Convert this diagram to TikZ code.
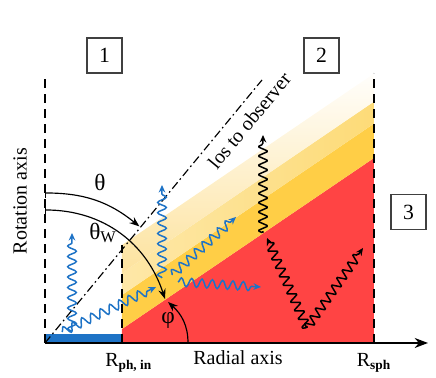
\documentclass[tikz,border=0pt]{standalone}
\usepackage{fontspec}
\setmainfont{Liberation Serif}
\usetikzlibrary{
    arrows.meta,
    decorations.pathmorphing,
    positioning,
    calc
}
\definecolor{Wblue}{RGB}{30, 115, 198}
\definecolor{Wred}{RGB}{255, 68, 68}
\definecolor{Wgold}{RGB}{255, 206, 70}
\definecolor{Wlight}{RGB}{253, 219, 120}
\definecolor{Wpale}{RGB}{253, 226, 156}
\tikzset{
    numbox/.style={
        rectangle, draw=black!75, line width=0.9pt, fill=white,
        minimum size=21pt, inner sep=0pt, font=\rmfamily\fontsize{13}{13}\selectfont
    },
    dashaxis/.style={line width=1.4pt, dash pattern=on 5.6pt off 3.4pt},
    mainaxis/.style={line width=1.1pt, -{Stealth[length=8pt, width=6pt]}},
    losline/.style={line width=0.7pt, dash pattern=on 5pt off 2pt on 1pt off 2pt},
    anglearr/.style={line width=0.7pt, {Bar[width=6pt]}-{Stealth[length=6pt, width=4.5pt]}},
    phiarr/.style={line width=0.7pt, -{Stealth[length=6pt, width=4.5pt]}},
    bphoton/.style={
        Wblue, line width=0.9pt, -{Stealth[length=4.5pt, width=4pt]}, decorate,
        decoration={snake, amplitude=2.6pt, segment length=6.2pt, post length=3pt}
    },
    kphoton/.style={
        black, line width=0.9pt, line join=round, -{Stealth[length=4.5pt, width=4pt]},
        decorate, rounded corners=0.8pt,
        decoration={zigzag, amplitude=3.2pt, segment length=5.6pt, post length=3pt}
    },
    lbl/.style={font=\rmfamily\fontsize{12}{14}\selectfont, inner sep=1pt},
    greek/.style={font=\rmfamily\fontsize{14}{16}\selectfont, inner sep=1pt},
}

\begin{document}
\begin{tikzpicture}[x=0.6pt, y=0.6pt]
    \useasboundingbox (0,0) rectangle (436,378);

    % ── key points ──────────────────────────────────────
    \coordinate (O)     at (45,35);
    \coordinate (rotend) at (45,303);
    \coordinate (xend)  at (428,35);
    \coordinate (rin)   at (122,35);
    \coordinate (rintop) at (122,133);
    \coordinate (rsph)  at (374,35);
    \coordinate (rsphtop) at (374,305);
    \coordinate (losend) at (262,298);

    % ── wind layers ─────────────────────────────────────
    \fill[Wred]   (122,35) -- (122,49) -- (374,220) -- (374,35) -- cycle;
    \fill[Wgold]  (122,49) -- (122,83) -- (374,254.4) -- (374,220) -- cycle;
    \shade[left color=Wlight!65!white, right color=Wlight]
        (122,83) -- (122,105) -- (374,276.4) -- (374,254.4) -- cycle;
    \begin{scope}
        \clip (122,105) -- (122,133) -- (374,304.4) -- (374,276.4) -- cycle;
        \shade[rotate around={34.2:(122,133)}, top color=white, bottom color=Wpale]
            (100,109.8) rectangle (440,134);
    \end{scope}
    \fill[Wblue] (O) rectangle (122,44);

    % ── axes ────────────────────────────────────────────
    \draw[dashaxis] (O) -- (rotend);
    \draw[dashaxis] (rin) -- (rintop);
    \draw[dashaxis] (rsph) -- (rsphtop);
    \draw[mainaxis] (O) -- (xend);
    \draw[losline] (O) -- (losend)
        node[pos=0.885, sloped, below=4pt, lbl] (loslbl) {los to observer};

    % ── photons ─────────────────────────────────────────
    \coordinate (b1s) at (72,46);   \coordinate (b1e) at (72,145);
    \coordinate (b2s) at (62,46);   \coordinate (b2e) at (156,91);
    \coordinate (b3s) at (162,100); \coordinate (b3e) at (162,193);
    \coordinate (b4s) at (172,103); \coordinate (b4e) at (236,161);
    \coordinate (b5s) at (178,96);  \coordinate (b5e) at (261,91);
    \coordinate (k1s) at (263,145); \coordinate (k1e) at (263,243);
    \coordinate (kv)  at (307,50);
    \coordinate (k2e) at (267,140);
    \coordinate (k3e) at (363,130);
    \draw[bphoton] (b1s) -- (b1e);
    \draw[bphoton] (b2s) -- (b2e);
    \draw[bphoton] (b3s) -- (b3e);
    \draw[bphoton] (b4s) -- (b4e);
    \draw[bphoton] (b5s) -- (b5e);
    \draw[kphoton] (k1s) -- (k1e);
    \draw[kphoton] (kv) -- (k2e);
    \draw[kphoton] (kv) -- (k3e);

    % ── angles ──────────────────────────────────────────
    \coordinate (thA) at (45,185);
    \coordinate (thB) at (139.4,151.6);
    \coordinate (twA) at (45,168);
    \coordinate (twB) at (165,79);
    \coordinate (phA) at (188,35);
    \coordinate (phB) at (168,76);
    \draw[anglearr] (thA) to[out=0, in=141] (thB);
    \draw[anglearr] (twA) to[out=0, in=108] (twB);
    \draw[phiarr] (phA) to[out=90, in=-42] (phB);

    \node[greek] (th)  at (100,196) {θ};
    \node[greek] (thw) at (103,145) {θ\textsubscript{W}};
    \node[greek] (ph)  at (168,58)  {φ};

    % ── labels ──────────────────────────────────────────
    \node[lbl, below=5pt of rin, xshift=4pt] (rinlbl) {R\textsubscript{\textbf{ph, in}}};
    \node[lbl, below=5pt of rsph] (rsphlbl) {R\textsubscript{\textbf{sph}}};
    \node[lbl] (xlbl) at (238,20) {Radial axis};
    \node[lbl, rotate=90] (rotlbl) at (20,177) {Rotation axis};

    \node[numbox] (n1) at (104.5,322.5) {1};
    \node[numbox] (n2) at (321.5,322.5) {2};
    \node[numbox] (n3) at (408.5,166)   {3};

\end{tikzpicture}
\end{document}
